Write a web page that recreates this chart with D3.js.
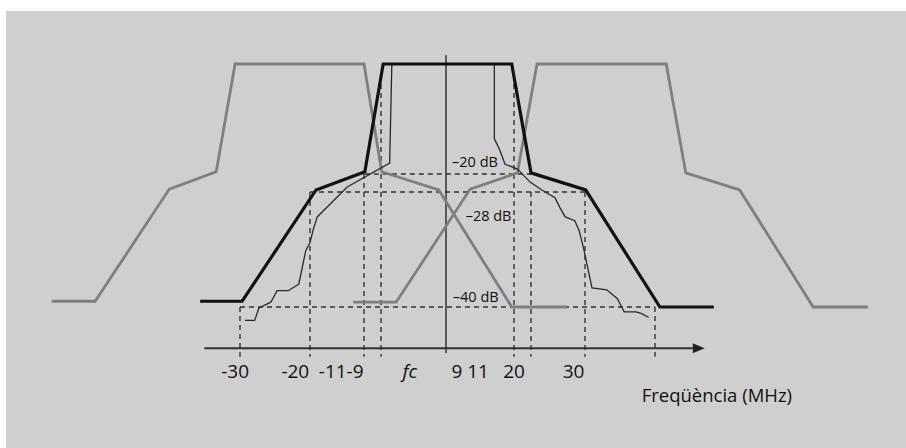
<!DOCTYPE html>
<html><head><meta charset="utf-8">
<script src="https://cdn.jsdelivr.net/npm/d3@7"></script>
<style>
body{margin:0;background:#fff}
svg{display:block}
text{font-family:"Open Sans",sans-serif;fill:#111}
</style>
</head><body>
<svg id="chart" width="906" height="448"></svg>
<script>
// ---------- data (frequency in MHz, level in dB) ----------
const scaleFreqKnots = [-30, -20, -11, -9, 0, 9, 11, 20, 30];
const scaleLevelKnots = [0, -20, -28, -40];

const maskFreq  = [-35.7, -29.7, -19, -10.9, -8.7, 8.7, 11, 20.1, 30.7, 38.4];
const maskLevel = [-39.4, -39.4, -27.1, -19.6, 0, 0, -19.8, -27.1, -40, -40];

const leftAdjFreq  = [-56.9, -50.7, -40.1, -33.4, -30.7, -11, -8.9, -1.0, 8.7, 17];
const leftAdjLevel = [-39.4, -39.4, -26.7, -19.6, 0, 0, -19.6, -27.1, -40, -40];

const rightAdjFreq  = [-12.8, -6.9, 3.2, 9.4, 12, 31.6, 34.4, 42.1, 52.6, 60.4];
const rightAdjLevel = [-39.5, -39.5, -26.7, -19.8, 0, 0, -19.8, -27.1, -40, -40];

const spectrumFreq  = [-29.3, -27.9, -27.3, -25.6, -24.7, -23.1, -21.6, -20.6, -20, -19.5, -18.8, -13.8, -7.8, -7.5,
                       6.4, 6.4, 7.1, 7.8, 9.4, 10.9, 12.8, 15, 15.8, 16.7, 18.3, 19, 19.7, 21, 23.1, 24.6, 25.6, 27.3, 28.1, 29.1];
const spectrumLevel = [-41.4, -41.4, -40.1, -39.5, -38.3, -38.3, -37.6, -34.1, -33.3, -32, -30.6, -25.8, -18, 0,
                       0, -13.6, -15.6, -18.2, -19.1, -23.6, -27.1, -28.6, -29.6, -30.6, -31, -32, -33.7, -38, -38.2, -39.1, -40.5, -40.5, -40.7, -41.1];

const levelLines = [-20, -28, -40];
const levelFrom  = [-10.9, -20, -30];
const levelTo    = [11, 20, 30];
const levelLabels = ["\u201320 dB", "\u201328 dB", "\u201340 dB"];
const levelLabelFreq  = [0.8, 2.6, 0.9];
const levelLabelLevel = [-18.7, -31.0, -39.5];

const markerFreqs = [-30, -20, -11, -9, 9, 11, 20, 30];
const markerTop   = [-40, -28, -20, -2, -2, -28, -28, -40];
const markerBottom = -45.2;

const tickLabels    = ["-30", "-20", "-11-9", "fc", "9 11", "20", "30"];
const tickLabelFreq = [-30.7, -22.1, -14.8, -5, 3.2, 9, 18.1];
const tickLabelLevel = -47.4;

const axisLevel = -44.3;
const axisFrom = -35.1, axisArrowBase = 35.4, axisTo = 37.1;
const vAxisTop = 1.6, vAxisBottom = -44.8;

const axisTitle = "Freq\u00fc\u00e8ncia (MHz)";
const axisTitleFreq = 28.1, axisTitleLevel = -49.9;

// ---------- scales ----------
const x = d3.scaleLinear().domain(scaleFreqKnots).range([240, 310, 364, 381, 446, 514, 531, 585, 655]);
const y = d3.scaleLinear().domain(scaleLevelKnots).range([64, 174, 192, 307]);

const svg = d3.select("#chart");
svg.append("rect").attr("x", 6).attr("y", 11).attr("width", 900).attr("height", 437).attr("fill", "#cfcfcf");

const line = d3.line().x(d => x(d[0])).y(d => y(d[1]));
const zip = (a, b) => a.map((v, i) => [v, b[i]]);

// dashed guides
const g = svg.append("g").attr("stroke", "#333").attr("stroke-width", 1.4).attr("stroke-dasharray", "5,4").attr("fill", "none");
levelLines.forEach((lv, i) => {
  g.append("line").attr("x1", x(levelFrom[i])).attr("x2", x(levelTo[i])).attr("y1", y(lv)).attr("y2", y(lv));
});
markerFreqs.forEach((f, i) => {
  g.append("line").attr("x1", x(f)).attr("x2", x(f)).attr("y1", y(markerTop[i])).attr("y2", y(markerBottom));
});

// axes
svg.append("line").attr("x1", x(axisFrom)).attr("x2", x(axisArrowBase)).attr("y1", y(axisLevel)).attr("y2", y(axisLevel))
  .attr("stroke", "#333").attr("stroke-width", 2);
svg.append("path")
  .attr("d", `M${x(axisTo)},${y(axisLevel)}L${x(axisArrowBase)},${y(axisLevel) - 5}L${x(axisArrowBase)},${y(axisLevel) + 5}Z`)
  .attr("fill", "#222");
svg.append("line").attr("x1", x(0)).attr("x2", x(0)).attr("y1", y(vAxisTop)).attr("y2", y(vAxisBottom))
  .attr("stroke", "#333").attr("stroke-width", 1.5);

// adjacent channel masks
[[leftAdjFreq, leftAdjLevel], [rightAdjFreq, rightAdjLevel]].forEach(([f, l]) => {
  svg.append("path").attr("d", line(zip(f, l))).attr("fill", "none").attr("stroke", "#7f7f7f")
    .attr("stroke-width", 2.8).attr("stroke-linejoin", "miter");
});

// measured spectrum
svg.append("path").attr("d", line(zip(spectrumFreq, spectrumLevel))).attr("fill", "none")
  .attr("stroke", "#2a2a2a").attr("stroke-width", 1.3);

// main mask
svg.append("path").attr("d", line(zip(maskFreq, maskLevel))).attr("fill", "none")
  .attr("stroke", "#111").attr("stroke-width", 3.2).attr("stroke-linejoin", "miter");

// level labels
levelLabels.forEach((t, i) => {
  svg.append("text").attr("x", x(levelLabelFreq[i])).attr("y", y(levelLabelLevel[i]))
    .attr("font-size", 14.5).text(t);
});

// tick labels
tickLabels.forEach((t, i) => {
  svg.append("text").attr("x", x(tickLabelFreq[i])).attr("y", y(tickLabelLevel))
    .attr("text-anchor", "middle").attr("font-size", 19)
    .attr("font-style", t === "fc" ? "italic" : "normal").text(t);
});

svg.append("text").attr("x", x(axisTitleFreq)).attr("y", y(axisTitleLevel)).attr("font-size", 18.5).text(axisTitle);
</script>
</body></html>
